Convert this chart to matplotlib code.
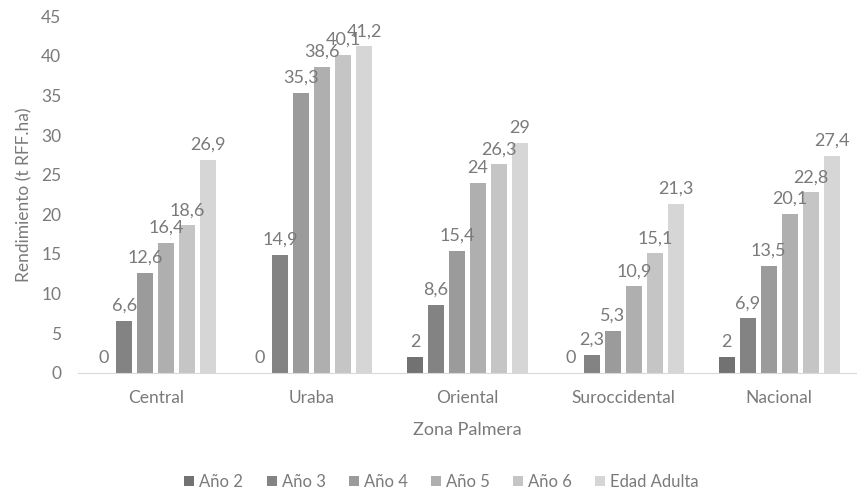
import numpy as np
import matplotlib.pyplot as plt

plt.rcParams['font.family'] = ['Lato', 'DejaVu Sans']

zonas = ["Central", "Uraba", "Oriental", "Suroccidental", "Nacional"]
series = ["Año 2", "Año 3", "Año 4", "Año 5", "Año 6", "Edad Adulta"]
ano2 = [0, 0, 2, 0, 2]
ano3 = [6.6, 14.9, 8.6, 2.3, 6.9]
ano4 = [12.6, 35.3, 15.4, 5.3, 13.5]
ano5 = [16.4, 38.6, 24, 10.9, 20.1]
ano6 = [18.6, 40.1, 26.3, 15.1, 22.8]
adulta = [26.9, 41.2, 29, 21.3, 27.4]
valores = [ano2, ano3, ano4, ano5, ano6, adulta]

colores = ["#727272", "#838383", "#9b9b9b", "#afafaf", "#c5c5c5", "#d6d6d6"]
gris_txt = "#7a7a7a"

fig = plt.figure(figsize=(8.57, 4.9), dpi=100)
ax = fig.add_axes([0.091, 0.239, 0.909, 0.728])

x = np.arange(len(zonas))
paso = 0.1346
ancho = 0.103
for i, (nombre, vals) in enumerate(zip(series, valores)):
    pos = x + (i - 2.5) * paso
    bars = ax.bar(pos, vals, ancho, color=colores[i], label=nombre)
    for b, v in zip(bars, vals):
        txt = ("%g" % v).replace(".", ",")
        ax.annotate(txt, (b.get_x() + b.get_width() / 2, v), xytext=(0, 5),
                    textcoords="offset points", ha="center", va="bottom",
                    fontsize=13, color=gris_txt)

ax.set_xlim(-0.5, len(zonas) - 0.5)
ax.set_ylim(0, 45)
ax.set_yticks(np.arange(0, 46, 5))
ax.set_xticks(x)
ax.set_xticklabels(zonas)
ax.tick_params(length=0, labelsize=12.5, colors=gris_txt)
ax.tick_params(axis="x", pad=12)
ax.tick_params(axis="y", pad=12)
for s in ["top", "right", "left"]:
    ax.spines[s].set_visible(False)
ax.spines["bottom"].set_color("#d9d9d9")

ax.set_ylabel("Rendimiento (t RFF.ha)", fontsize=12.5, color=gris_txt, labelpad=6)
ax.set_xlabel("Zona Palmera", fontsize=13, color=gris_txt, labelpad=12)

ax.legend(loc="center", bbox_to_anchor=(0.467, -0.305), ncol=6, frameon=False,
          fontsize=12, handlelength=0.6, handleheight=0.6, handletextpad=0.3,
          columnspacing=1.4, labelcolor=gris_txt)

fig.savefig("out.png", dpi=100)
